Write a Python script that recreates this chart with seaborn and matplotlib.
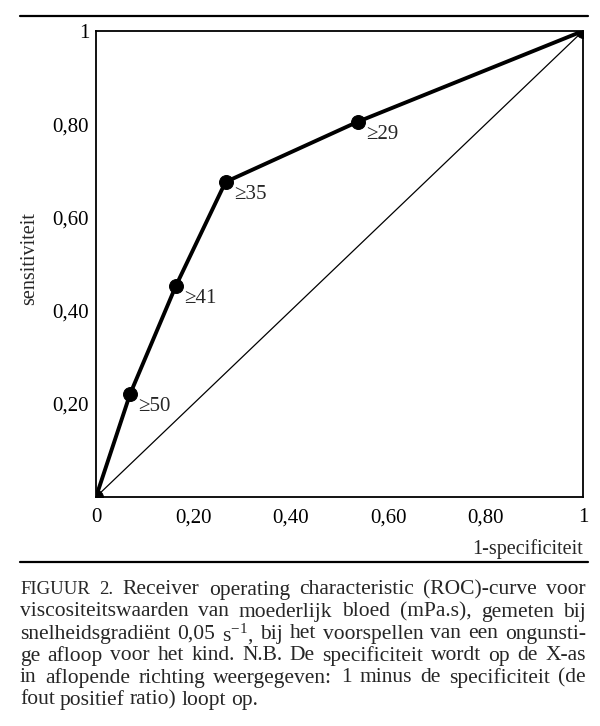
import matplotlib
matplotlib.use("Agg")
import matplotlib.pyplot as plt
import seaborn as sns
import pandas as pd
from matplotlib.lines import Line2D

# ROC points (1-specificiteit, sensitiviteit)
fpr = [0.0, 0.070, 0.164, 0.266, 0.537, 1.0]
tpr = [0.0, 0.221, 0.453, 0.676, 0.805, 1.0]
cutoffs = ["", "≥50", "≥41", "≥35", "≥29", ""]
diag_x = [0.0, 1.0]
diag_y = [0.0, 1.0]

xticks = [0, 0.2, 0.4, 0.6, 0.8, 1.0]
xticklabels = ["0", "0,20", "0,40", "0,60", "0,80", "1"]
yticks = [0.2, 0.4, 0.6, 0.8, 1.0]
yticklabels = ["0,20", "0,40", "0,60", "0,80", "1"]

caption = [
    "FIGUUR 2. Receiver operating characteristic (ROC)-curve voor",
    "viscositeitswaarden van moederlijk bloed (mPa.s), gemeten bij",
    "snelheidsgradiënt 0,05 s$^{\\mathregular{-1}}$, bij het voorspellen van een ongunsti-",
    "ge afloop voor het kind. N.B. De specificiteit wordt op de X-as",
    "in aflopende richting weergegeven: 1 minus de specificiteit (de",
    "fout positief ratio) loopt op.",
]

sns.set_style("white")
plt.rcParams["font.family"] = ["Liberation Serif", "DejaVu Serif"]
plt.rcParams["mathtext.fontset"] = "custom"
plt.rcParams["mathtext.rm"] = "Liberation Serif"

W, H = 600, 726
fig = plt.figure(figsize=(6, 7.26), dpi=100)
ax = fig.add_axes([96 / W, 1 - 497 / H, 487 / W, 466 / H])

df = pd.DataFrame({"fpr": fpr, "tpr": tpr})
sns.lineplot(x=diag_x, y=diag_y, ax=ax, color="black", linewidth=0.9)
sns.lineplot(data=df, x="fpr", y="tpr", ax=ax, sort=False, color="black",
             linewidth=2.8, marker="o", markersize=10, markeredgecolor="black")

for x, y, lab in zip(fpr, tpr, cutoffs):
    if lab:
        ax.annotate(lab, (x, y), xytext=(6, -9), textcoords="offset points",
                    ha="left", va="center", fontsize=15)

ax.set_xlim(0, 1)
ax.set_ylim(0, 1)
ax.set_xticks(xticks)
ax.set_xticklabels(xticklabels, fontsize=15)
ax.set_yticks(yticks)
ax.set_yticklabels(yticklabels, fontsize=15)
ax.tick_params(axis="both", direction="in", length=6, width=1.2, color="black",
               labelcolor="black")
ax.tick_params(axis="x", pad=8)
ax.tick_params(axis="y", pad=5)
for sp in ax.spines.values():
    sp.set_visible(True)
    sp.set_color("black")
    sp.set_linewidth(1.3)
ax.set_xlabel("")
ax.set_ylabel("")
ax.grid(False)

fig.text(583 / W, 1 - 549 / H, "1-specificiteit", ha="right", va="center", fontsize=14.5)
fig.text(30 / W, 1 - 259 / H, "sensitiviteit", ha="center", va="center",
         rotation=90, fontsize=14.5)

# horizontal rules
for yy in (16, 562):
    fig.add_artist(Line2D([20 / W, 588 / W], [1 - yy / H, 1 - yy / H],
                          color="black", linewidth=1.6))

# justified caption
left, right = 20, 586
fig.canvas.draw()
renderer = fig.canvas.get_renderer()
for i, line in enumerate(caption):
    yy = 1 - (590 + 22 * i) / H
    words = line.split(" ")
    texts = []
    for j, w in enumerate(words):
        fs = 15.5
        if i == 0 and j < 2:
            fs = 13.5  # small caps look
        t = fig.text(0, yy, w, ha="left", va="center", fontsize=fs)
        texts.append(t)
    widths = [t.get_window_extent(renderer).width for t in texts]
    last = i == len(caption) - 1
    if last or len(words) == 1:
        gap = 5
    else:
        gap = (right - left - sum(widths)) / (len(words) - 1)
    x = left
    for t, w in zip(texts, widths):
        t.set_x(x / W)
        x += w + gap

fig.savefig("out.png", dpi=100)
